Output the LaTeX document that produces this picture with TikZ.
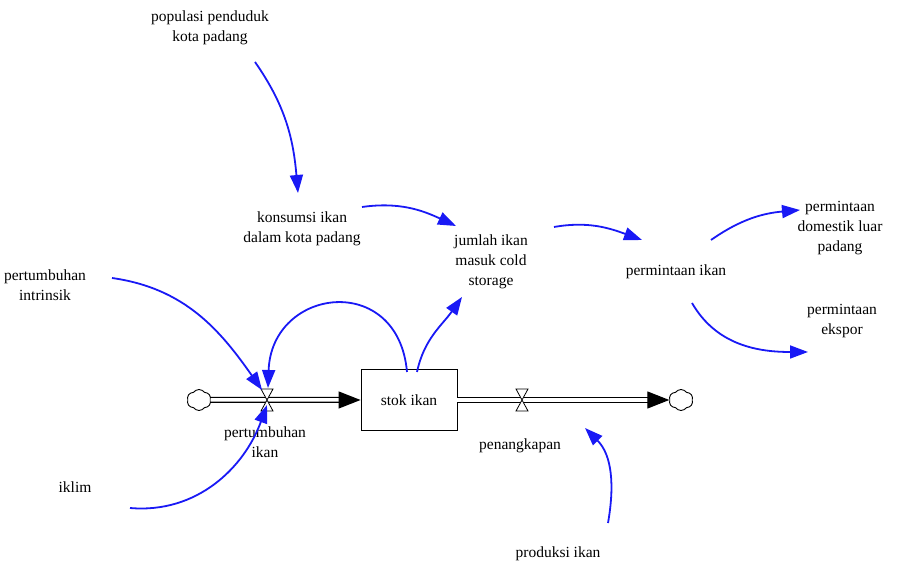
\documentclass[tikz,border=0pt]{standalone}
\usepackage{fontspec}
\setmainfont{Liberation Serif}
\usetikzlibrary{arrows.meta,shapes.symbols}
\definecolor{linkblue}{RGB}{25,25,245}
\begin{document}
\begin{tikzpicture}[x=1pt,y=1pt,
    var/.style = {align=center,
                  inner sep=1pt,
                  font=\fontsize{15.5}{20}\selectfont},
    level/.style = {var, draw, rectangle,
                    minimum width=96pt,
                    minimum height=61pt,
                    line width=0.9pt},
    source/.style = {draw, cloud, cloud puffs=6,
                     cloud puff arc=110,
                     minimum width=24pt,
                     minimum height=21pt,
                     inner sep=0pt,
                     line width=0.9pt},
    pipe/.style = {draw=black, double=white,
                   double distance=3.5pt,
                   line width=1.25pt,
                   -{Triangle[length=22pt,width=17pt]}},
    valve/.style = {draw, fill=white, line width=0.8pt},
    link/.style = {draw=linkblue, line width=1.8pt,
                   -{Triangle[length=18pt,width=13pt]}}]
  \useasboundingbox (0,0) rectangle (902,564);
  % stock and flows
  \node[source] (c1) at (199,164) {};
  \node[source] (c2) at (681,164) {};
  \node[level] (stok) at (409,164) {stok ikan};
  \coordinate (v1) at (267,164);
  \coordinate (v2) at (522,164);
  \draw[pipe] (c1) -- (stok);
  \draw[pipe] (stok) -- (c2);
  \foreach \v in {v1,v2}
    \draw[valve] ([shift={(-6,11)}]\v) -- ([shift={(6,11)}]\v)
      -- ([shift={(-6,-11)}]\v) -- ([shift={(6,-11)}]\v) -- cycle;
  % variables
  \node[var] (pop) at (210,536) {populasi penduduk\\kota padang};
  \node[var] (kons) at (302,335.5) {konsumsi ikan\\dalam kota padang};
  \node[var] (jml) at (491,302) {jumlah ikan\\masuk cold\\storage};
  \node[var] (pmt) at (676,292) {permintaan ikan};
  \node[var] (dom) at (840,335.5) {permintaan\\domestik luar\\padang};
  \node[var] (eks) at (842,243) {permintaan\\ekspor};
  \node[var] (pint) at (45,279) {pertumbuhan\\intrinsik};
  \node[var] (ptik) at (265,121.5) {pertumbuhan\\ikan};
  \node[var] (pen) at (520,118) {penangkapan};
  \node[var] (iklim) at (75,77) {iklim};
  \node[var] (prod) at (558,10) {produksi ikan};
  % links
  \path[link] ([shift={(45,-34)}]pop.center) to[out=-55,in=95]
    ([shift={(-4,35.5)}]kons.center);
  \path[link] ([shift={(60,21.5)}]kons.center) to[out=8,in=155]
    ([shift={(-35,36)}]jml.center);
  \path[link] ([shift={(63,35)}]jml.center) to[out=10,in=160]
    ([shift={(-34,32)}]pmt.center);
  \path[link] ([shift={(35,32)}]pmt.center) to[out=35,in=185]
    ([shift={(-40,18.5)}]dom.center);
  \path[link] ([shift={(16,-31)}]pmt.center) to[out=-60,in=180]
    ([shift={(-34,-31)}]eks.center);
  \path[link] ([shift={(8,28)}]stok.center) to[out=78,in=-125]
    ([shift={(-29,-35)}]jml.center);
  \path[link] ([shift={(-2,28)}]stok.center) to[out=95,in=88,looseness=1.85]
    ([shift={(1,12)}]v1);
  \path[link] ([shift={(67,7)}]pint.center) to[out=-8,in=125]
    ([shift={(-5,10)}]v1);
  \path[link] ([shift={(55,-21)}]iklim.center) to[out=-5,in=-110]
    ([shift={(0,-5)}]v1);
  \path[link] ([shift={(50,31)}]prod.center) to[out=80,in=-45]
    ([shift={(63,-28)}]v2);
\end{tikzpicture}
\end{document}
